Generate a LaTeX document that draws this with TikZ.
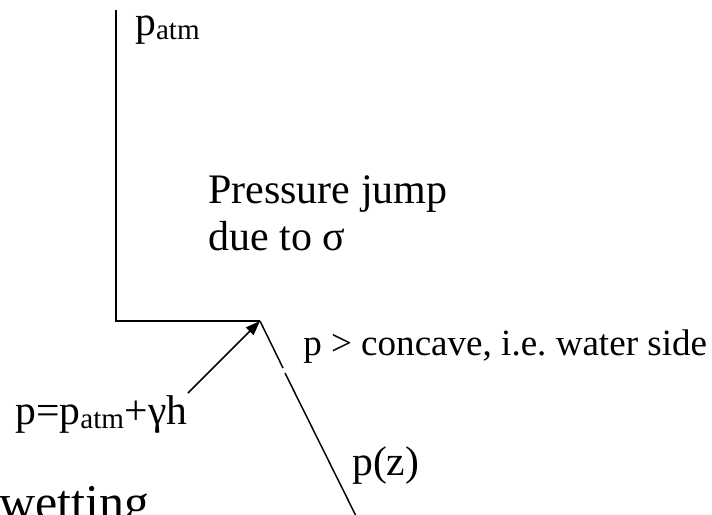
\documentclass[tikz,border=0pt]{standalone}
\usepackage{fontspec}
\setmainfont{Liberation Serif}
\usetikzlibrary{arrows.meta}
\definecolor{lineBlack}{RGB}{0, 0, 0}
\frenchspacing

\begin{document}
\begin{tikzpicture}[x=0.75pt, y=-0.75pt,
    profile/.style={lineBlack, line width=1.3pt},
    lbl/.style={anchor=base west, inner sep=0pt, font=\fontsize{31.2}{35}\selectfont}]
        \useasboundingbox (0,0) rectangle (712,514);
        \clip (0,0) rectangle (712,514);
        \coordinate (top) at (116,10);                     % top of atmospheric side
        \coordinate (corner) at (116,321);
        \coordinate (jump) at (260,321);                   % interface point
        \coordinate (gapA) at (283,368);
        \coordinate (gapB) at (285,373);
        \coordinate (bottom) at (356,516);
        \coordinate (tail) at (188,393);
        \draw[profile] (top) -- (corner) -- (jump);
        \draw[profile, line width=1.1pt] (jump) -- (gapA);
        \draw[profile, line width=1.1pt] (gapB) -- (bottom);
        % Labels
        \node[lbl] (patm) at (135,35) {p\textsubscript{atm}};
        \node[lbl, font=\fontsize{31.5}{35}\selectfont, align=left] (jumplbl) at (208,250)
            {Pressure jump\\[-0.3pt]due to σ};
        \node[lbl, font=\fontsize{27.8}{31}\selectfont] (concave) at (303,355) {p > concave, i.e. water side};
        \node[lbl] (hydro) at (15,424) {p=p\textsubscript{atm}+γh};
        \node[lbl] (pz) at (352,475) {p(z)};
        \node[lbl, font=\fontsize{37.5}{41}\selectfont] (wet) at (-1,519) {wetting};
        \draw[lineBlack, line width=1.1pt, -{Triangle[length=11pt, width=8pt]}] (tail) -- (jump);
      \end{tikzpicture}
\end{document}
